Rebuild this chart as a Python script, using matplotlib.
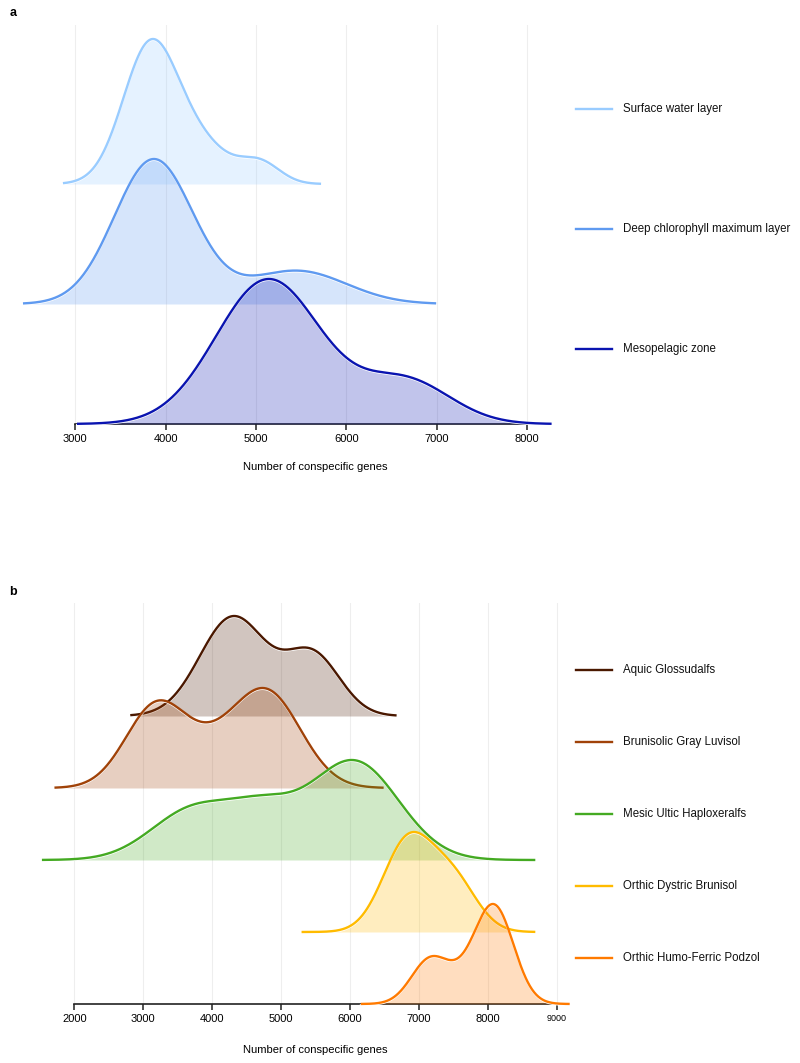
import numpy as np
import matplotlib
matplotlib.use("Agg")
import matplotlib.pyplot as plt
from matplotlib import transforms

plt.rcParams['font.family'] = ['Liberation Sans', 'DejaVu Sans']

# ---- panel a: marine layers ----
a_labels = ["Surface water layer", "Deep chlorophyll maximum layer", "Mesopelagic zone"]
a_colors = ["#99ccff", "#5f9af0", "#0a14b0"]
a_lo = [2865, 2423, 3020]
a_hi = [5720, 6993, 8270]
# density shape: mode centres, spreads, weights
a_means = [[3820, 4350, 5050], [3868, 5450], [5137, 6650]]
a_sds = [[300, 350, 220], [435, 550], [580, 500]]
a_wts = [[1.0, 0.3, 0.15], [1.0, 0.23], [1.0, 0.3]]
a_ticks = [3000, 4000, 5000, 6000, 7000, 8000]

# ---- panel b: soils ----
b_labels = ["Aquic Glossudalfs", "Brunisolic Gray Luvisol", "Mesic Ultic Haploxeralfs",
            "Orthic Dystric Brunisol", "Orthic Humo-Ferric Podzol"]
b_colors = ["#4a1800", "#a04208", "#44aa22", "#ffbb00", "#ff7a00"]
b_lo = [2810, 1710, 1528, 5296, 6155]
b_hi = [6675, 6487, 8688, 8688, 9187]
b_means = [[4300, 5450], [3200, 4780, 4000], [6050, 3750, 4750],
           [6840, 7500], [7150, 8100, 7650]]
b_sds = [[480, 400], [450, 500, 400], [650, 620, 480],
         [360, 340], [270, 280, 300]]
b_wts = [[1.0, 0.62], [0.8, 0.92, 0.2], [1.0, 0.52, 0.38],
         [1.0, 0.55], [0.45, 1.0, 0.2]]
b_ticks = [2000, 3000, 4000, 5000, 6000, 7000, 8000, 9000]


def density(x, means, sds, wts):
    y = np.zeros_like(x)
    for m, s, w in zip(means, sds, wts):
        y += w * np.exp(-0.5 * ((x - m) / s) ** 2)
    return y / y.max()


fig = plt.figure(figsize=(8, 10.63), dpi=100)
H = 1063.0


def ridges(ax, labels, colors, lo, hi, means, sds, wts, peak, leg_off):
    n = len(labels)
    halo = transforms.offset_copy(ax.transData, fig=fig, x=0, y=-1.1, units='dots')
    blend = transforms.blended_transform_factory(fig.transFigure, ax.transData)
    for i in range(n):
        base = n - 1 - i
        x = np.linspace(lo[i], hi[i], 500)
        y = base + peak * density(x, means[i], sds[i], wts[i])
        z = 2 + i * 3
        ax.fill_between(x, base, y, color=colors[i], alpha=0.25, lw=0, zorder=z)
        ax.plot(x, y, color="white", lw=1.3, transform=halo, zorder=z + 1, clip_on=False)
        ax.plot(x, y, color=colors[i], lw=1.7, zorder=z + 2, clip_on=False,
                solid_capstyle='butt')
        # legend entry
        ax.plot([576 / 800, 612 / 800], [base + leg_off] * 2, color=colors[i], lw=1.7,
                transform=blend, clip_on=False)
        ax.text(623 / 800, base + leg_off, labels[i], transform=blend, fontsize=8.3,
                va='center', ha='left', color="#111111")


def style(ax, ticks, left_px, width_px, label_y):
    for s in ["left", "right", "top"]:
        ax.spines[s].set_visible(False)
    ax.spines["bottom"].set_bounds(ticks[0], ticks[-1])
    ax.spines["bottom"].set_linewidth(1.2)
    ax.spines["bottom"].set_color("#222222")
    ax.set_yticks([])
    ax.set_xticks(ticks)
    ax.tick_params(axis='x', length=4, width=1.1, color="#222222", labelsize=8, pad=3.5)
    ax.grid(axis='x', color="#eeeeee", lw=0.8, zorder=0)
    ax.set_axisbelow(True)
    ax.set_xlabel("Number of conspecific genes", fontsize=8)
    ax.xaxis.set_label_coords((315 - left_px) / width_px, label_y)


# panel a
ax1 = fig.add_axes([20 / 800, 1 - 424 / H, 540 / 800, 399 / H])
ax1.set_xlim(2390, 8363)
ax1.set_ylim(0, 399 / 120)
ridges(ax1, a_labels, a_colors, a_lo, a_hi, a_means, a_sds, a_wts, 145 / 120, 0.625)
style(ax1, a_ticks, 20, 540, -0.094)

# panel b
ax2 = fig.add_axes([20 / 800, 1 - 1004 / H, 555 / 800, 401 / H])
ax2.set_xlim(1210, 9264)
ax2.set_ylim(0, 401 / 72)
ridges(ax2, b_labels, b_colors, b_lo, b_hi, b_means, b_sds, b_wts, 100 / 72, 0.64)
style(ax2, b_ticks, 20, 555, -0.101)
labs = ax2.set_xticklabels([str(t) for t in b_ticks])
labs[-1].set_fontsize(6.5)

fig.text(13 / 800, 1 - 13 / H, "a", fontsize=9, fontweight='bold', ha='center', va='center')
fig.text(13 / 800, 1 - 592 / H, "b", fontsize=9, fontweight='bold', ha='center', va='center')

fig.savefig("out.png", dpi=100, facecolor="white")
